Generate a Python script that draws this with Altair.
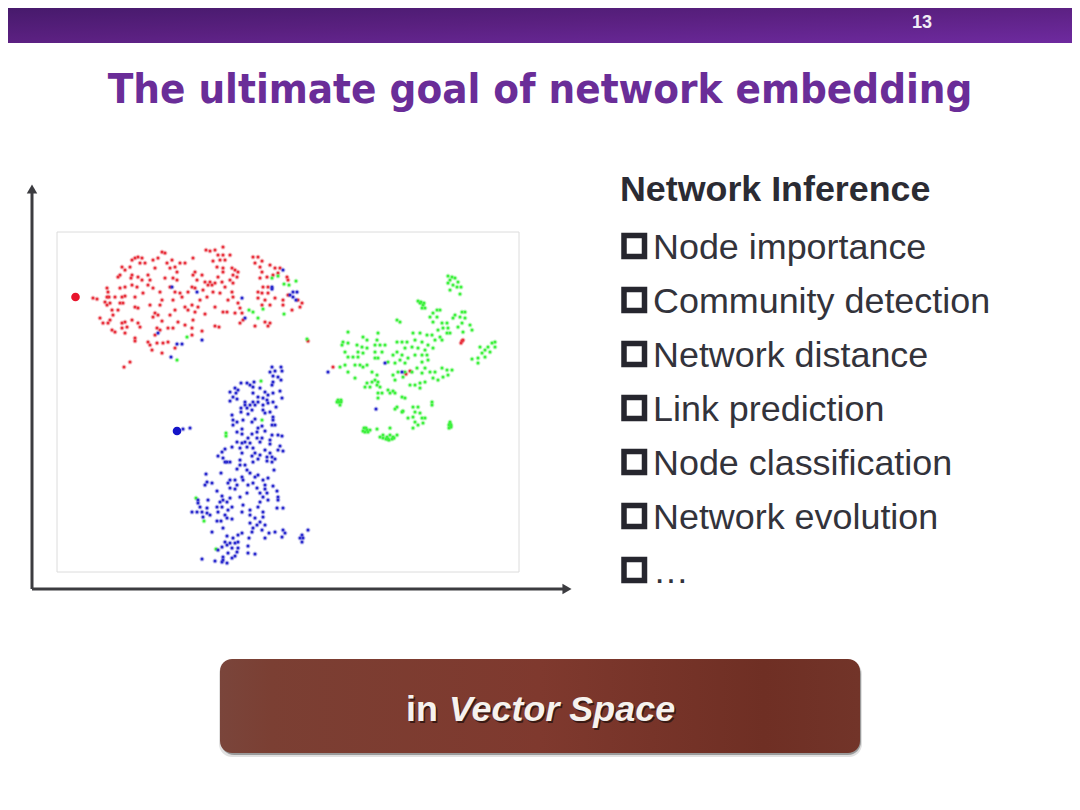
import altair as alt
import pandas as pd

TITLE = "The ultimate goal of network embedding"
PAGE_NO = "13"
HEADING = "Network Inference"
ITEMS = ["Node importance", "Community detection", "Network distance", "Link prediction",
         "Node classification", "Network evolution", "…"]
ITEM_Y = [246, 300, 354, 408, 462, 516, 570]

RED = [(93,298),(97,299),(107,288),(108,292),(107,297),(109,297),(105,302),(110,303),(107,305),(115,297),(122,297),(125,296),(120,288),(125,287),(132,285),(137,287),(120,303),(123,303),(118,310),(112,310),(113,315),(110,320),(100,318),(103,323),(108,323),(112,330),(115,332),(122,323),(125,322),(122,328),(127,327),(132,320),(138,323),(140,327),(125,333),(135,338),(135,341),(120,275),(118,277),(122,267),(125,270),(130,267),(132,260),(135,258),(138,257),(142,258),(140,263),(145,263),(132,275),(131,278),(138,277),(142,280),(148,275),(150,280),(148,285),(153,288),(153,260),(158,258),(155,268),(162,252),(165,253),(167,263),(172,260),(175,267),(180,263),(185,263),(170,268),(177,272),(165,278),(173,278),(177,280),(170,287),(180,293),(182,297),(175,292),(188,292),(160,292),(162,300),(160,305),(150,305),(135,307),(138,308),(135,297),(143,293),(173,300),(175,310),(185,307),(188,310),(155,313),(158,315),(153,317),(162,321),(170,315),(178,322),(185,325),(157,328),(160,330),(168,328),(173,328),(155,335),(148,342),(150,345),(157,343),(163,343),(168,342),(175,348),(162,353),(152,350),(130,362),(124,367),
(206,250),(210,251),(215,250),(223,247),(218,255),(223,255),(225,260),(220,260),(213,261),(230,255),(217,267),(223,268),(223,272),(232,268),(235,270),(238,272),(233,275),(237,277),(230,280),(218,277),(210,282),(212,285),(208,285),(215,283),(222,282),(225,287),(233,283),(193,258),(195,272),(193,275),(197,280),(202,275),(205,282),(192,287),(195,288),(203,290),(213,292),(207,297),(220,293),(232,292),(233,297),(228,300),(238,303),(240,308),(242,313),(235,313),(227,312),(223,312),(215,307),(205,314),(200,300),(198,307),(195,312),(192,305),(193,320),(192,328),(192,335),(202,331),(215,326),(219,327),(240,323),(243,320),(255,326),(265,322),(270,323),(268,326),
(253,257),(258,257),(262,261),(255,263),(260,267),(270,265),(275,268),(280,268),(262,272),(260,278),(267,277),(273,275),(278,273),(287,277),(288,280),(263,287),(268,287),(258,292),(262,293),(268,293),(258,298),(265,300),(262,305),(270,305),(275,298),(283,300),(283,305),(288,295),(298,300),(302,303),(300,307),(292,310),(308,341),
(463,340),(461,343),(462,341),(333,367),(406,374),(410,371)]
RED_BLOB = [(75.5,297)]

GREEN = [(448,276),(452,277),(450,280),(455,278),(458,282),(448,283),(453,285),(457,287),(450,290),(460,294),(461,287),
(420,303),(423,305),(422,308),(425,308),(418,301),(421,302),(424,303),(437,310),(440,310),(433,313),(430,317),(437,317),(433,322),(442,323),(447,323),(443,328),(448,328),(438,330),(440,337),(447,333),(450,333),(442,340),(462,312),(465,312),(455,315),(460,317),(465,318),(453,318),(462,323),(458,327),(470,325),(472,330),(463,332),
(495,342),(492,343),(495,347),(488,347),(480,347),(485,350),(490,352),(482,353),(485,357),(478,358),(472,359),(478,363),
(348,332),(343,342),(348,343),(342,345),(363,337),(367,340),(357,345),(362,347),(367,348),(345,352),(348,357),(358,352),(363,353),(353,357),(358,357),(378,333),(377,340),(375,345),(380,345),(375,352),(382,352),(385,345),(378,358),(397,320),(400,322),(397,342),(402,342),(407,342),(413,333),(420,333),(427,335),(432,335),(435,340),(415,340),(422,342),(428,345),(405,348),(412,347),(418,348),(425,350),(433,348),(397,352),(393,355),(402,355),(408,358),(415,355),(422,355),(427,355),(395,363),(400,360),(405,363),(422,362),(428,360),(388,362),(375,358),(355,365),(360,365),(363,367),(345,365),(340,367),(348,372),(367,365),(372,372),(377,375),(355,378),(393,375),(398,372),(395,380),(403,377),(405,372),(412,372),(417,368),(425,368),(422,373),(430,372),(435,372),(442,368),(438,380),(433,378),(447,370),(452,370),(448,375),(443,377),
(375,380),(378,382),(372,382),(367,383),(365,387),(377,385),(370,387),(380,387),(388,390),(393,391),(382,393),(390,393),(395,393),(378,393),(378,398),(402,397),(405,398),(410,385),(415,385),(420,383),(425,382),(420,388),
(339,402),(341,402),(337,402),(340,405),(338,400),(341,400),(432,402),(432,405),(413,407),(418,407),(415,412),(420,413),(402,412),(403,411),(397,407),(395,409),(413,417),(408,418),(415,422),(422,418),(425,418),(423,423),(418,425),(413,428),(450,422),(451,427),(449,428),(450,424),(451,425),(449,425),(377,429),(390,428),(364,428),(367,430),(368,432),(365,432),(366,428),(363,431),(370,430),(380,437),(383,435),(387,437),(390,435),(393,437),(397,435),(388,439),(392,439),(383,438),(386,439),(389,440),(394,438),
(187,337),(177,360),(296,281),(284,284),(289,285),(272,278),(278,276),(263,309),(258,318),(249,310),(253,312),(284,314),(307,339),(261,381),(262,420),(226,436),(226,433),(196,498),(204,521),(216,549)]

BLUE = [(183,429),(190,428),(272,367),(281,367),(270,372),(275,371),(282,371),(273,376),(278,377),(281,380),(273,382),(272,385),(241,383),(247,383),(250,385),(254,382),(253,387),(235,388),(238,390),(230,392),(236,393),(233,397),(230,401),(237,399),(260,388),(253,393),(265,392),(268,395),(273,393),(280,391),(258,397),(263,398),(282,398),(273,402),(245,402),(253,402),(258,402),(267,400),(245,405),(250,405),(255,405),(263,405),(268,403),(241,408),(247,408),(252,410),(263,410),(276,407),(241,412),(248,414),(265,413),(270,412),(232,415),(273,417),(233,420),(237,422),(243,420),(252,422),(255,419),(273,420),(233,425),(272,425),(275,425),(262,426),(258,428),(265,431),(237,432),(242,429),(242,434),(257,432),(252,434),(278,435),(282,436),(272,435),(248,438),(257,438),(270,440),(262,438),(245,442),(237,442),(242,443),(250,443),(260,442),(270,444),(232,447),(247,447),(253,448),(240,448),(225,449),(222,452),(242,453),(255,453),(280,446),(278,450),(283,451),(265,450),(270,453),(218,456),(223,458),(252,456),(260,455),(267,457),(272,457),(225,462),(230,462),(240,460),(258,459),(267,461),(275,459),
(227,462),(240,465),(245,465),(253,462),(272,462),(237,469),(247,470),(250,473),(274,470),(221,473),(206,474),(242,477),(255,477),(258,475),(268,478),(230,480),(235,480),(243,480),(263,480),(207,482),(212,483),(205,485),(228,483),(253,483),(248,485),(265,485),(237,485),(273,486),(230,488),(235,489),(257,488),(265,489),(217,491),(277,491),(247,493),(260,493),(267,493),(222,496),(240,497),(230,498),(278,497),(278,500),(263,497),(223,500),(198,500),(208,500),(220,502),(227,502),(198,503),(260,502),(268,500),(200,507),(217,507),(222,507),(232,507),(243,505),(258,507),(277,508),(283,508),(207,508),(228,510),(242,512),(250,510),(263,512),(218,512),(192,512),(197,512),(202,512),(207,513),(210,515),(225,515),(250,515),(263,517),(203,517),(227,518),(232,519),(255,518),(217,521),(221,521),(250,523),(260,522),(265,525),(257,525),(223,528),(253,528),(262,530),(212,532),(252,532),(269,533),(275,532),(283,530),(285,533),(308,530),(238,535),(242,533),(227,536),(233,538),(265,538),(282,537),(249,538),(302,535),(300,538),(303,538),(302,542),(225,542),(230,543),(235,543),(238,542),(222,547),(227,545),(248,546),(238,548),(218,550),(232,548),(228,553),(237,552),(248,553),(255,554),(223,557),(232,558),(235,556),(215,561),(223,560),(202,559),(222,562),(227,563),
(172,287),(158,333),(177,344),(182,344),(171,357),(197,292),(272,287),(272,289),(283,270),(242,298),(245,318),(202,340),(293,292),(297,292),(290,295),(293,297),(296,300),(328,372),(385,363),(402,372),(376,409)]
BLUE_BLOB = [(177,431)]

X = alt.X("x:Q", scale=alt.Scale(domain=[8, 1072], nice=False, zero=False), axis=None)
Y = alt.Y("y:Q", scale=alt.Scale(domain=[802, 8], nice=False, zero=False), axis=None)


def pts(rows):
    return pd.DataFrame(rows, columns=["x", "y"])


def box(x, x2, y, y2):
    return pd.DataFrame([{"x": x, "x2": x2, "y": y, "y2": y2}])


def rect(data, **kw):
    return alt.Chart(data).mark_rect(**kw).encode(x=X, x2="x2:Q", y=Y, y2="y2:Q")


def label(text, x, y, **kw):
    return alt.Chart(pd.DataFrame([{"x": x, "y": y, "t": text}])).mark_text(baseline="middle", **kw).encode(x=X, y=Y, text="t:N")


header = rect(box(8, 1072, 8, 43), color=alt.Gradient(
    gradient="linear", x1=0, y1=0, x2=1, y2=1,
    stops=[alt.GradientStop(offset=0, color="#471a6c"), alt.GradientStop(offset=0.45, color="#5a2080"),
           alt.GradientStop(offset=1, color="#6e2a9f")]))
page = label(PAGE_NO, 922, 23, font="Liberation Sans", fontWeight="bold", fontSize=18, color="#f2eef6", align="center")
title = label(TITLE, 540, 90, font="DejaVu Sans Condensed", fontWeight="bold", fontSize=41.7, color="#6a2d98", align="center")

frame = rect(box(57, 519, 232, 572), fill="white", stroke="#dcdcdc", strokeWidth=1)

scatter = []
for rows, col in [(RED, "#e8303c"), (GREEN, "#3cf03c"), (BLUE, "#2828cc")]:
    scatter.append(alt.Chart(pts(rows)).mark_circle(size=26, opacity=0.25, color=col).encode(x=X, y=Y))
    scatter.append(alt.Chart(pts(rows)).mark_circle(size=9, opacity=0.95, color=col).encode(x=X, y=Y))
blobs = alt.Chart(pts(RED_BLOB)).mark_circle(size=75, color="#e8142c", opacity=1).encode(x=X, y=Y) + \
        alt.Chart(pts(BLUE_BLOB)).mark_circle(size=75, color="#1414c8", opacity=1).encode(x=X, y=Y)

AXIS = "#3c3c40"
vaxis = alt.Chart(box(32, 32, 192, 589)).mark_rule(color=AXIS, strokeWidth=3).encode(x=X, y=Y, y2="y2:Q")
haxis = alt.Chart(box(32, 566, 589, 589)).mark_rule(color=AXIS, strokeWidth=3).encode(x=X, x2="x2:Q", y=Y)
up = alt.Chart(pts([(32, 189)])).mark_point(shape="triangle-up", filled=True, size=110, color=AXIS, opacity=1).encode(x=X, y=Y)
right = alt.Chart(pts([(567, 589)])).mark_point(shape="triangle-right", filled=True, size=110, color=AXIS, opacity=1).encode(x=X, y=Y)

heading = label(HEADING, 620, 190, font="Liberation Sans", fontWeight="bold", fontSize=35.8, color="#2b2b33", align="left")
bullets = alt.Chart(pd.DataFrame({"x": [624] * 7, "x2": [644.5] * 7, "y": [v - 10.5 for v in ITEM_Y], "y2": [v + 10.5 for v in ITEM_Y]})) \
    .mark_rect(fill="white", stroke="#26262e", strokeWidth=5.5).encode(x=X, x2="x2:Q", y=Y, y2="y2:Q")
items = alt.Chart(pd.DataFrame({"x": [653] * 7, "y": [v + 1.5 for v in ITEM_Y], "t": ITEMS})).mark_text(
    baseline="middle", align="left", font="Liberation Sans", fontSize=35.9, color="#33333b").encode(x=X, y=Y, text="t:N")

shadow2 = rect(box(219, 862, 661, 757), color="#9a9a9a", opacity=0.3, cornerRadius=13)
shadow = rect(box(221, 861, 661, 755), color="#6a6a6a", opacity=0.6, cornerRadius=13)
button = rect(box(220, 860, 659, 753), cornerRadius=12, color=alt.Gradient(
    gradient="linear", x1=0, y1=0, x2=1, y2=0,
    stops=[alt.GradientStop(offset=0, color="#7a453b"), alt.GradientStop(offset=0.08, color="#7b3f33"),
           alt.GradientStop(offset=0.5, color="#7f392e"), alt.GradientStop(offset=0.85, color="#6f2f24"),
           alt.GradientStop(offset=1, color="#723429")]))
btn = []
for dx, col in [(1.5, "#3a1a14"), (0, "#f6f2ee")]:
    btn.append(label("in", 406 + dx, 710 + dx, font="Liberation Sans", fontWeight="bold", fontSize=35.9, color=col, align="left"))
    btn.append(label("Vector Space", 449 + dx, 710 + dx, font="Liberation Sans", fontWeight="bold", fontStyle="italic", fontSize=35.9, color=col, align="left"))

chart = alt.layer(header, page, title, frame, *scatter, blobs, vaxis, haxis, up, right, heading, bullets, items,
                  shadow2, shadow, button, *btn).properties(
    width=1064, height=794, padding=0, autosize=alt.AutoSizeParams(type="none"), background="white"
).configure_view(stroke=None)

chart.save("out.html", embed_options={"renderer": "svg", "actions": False})
